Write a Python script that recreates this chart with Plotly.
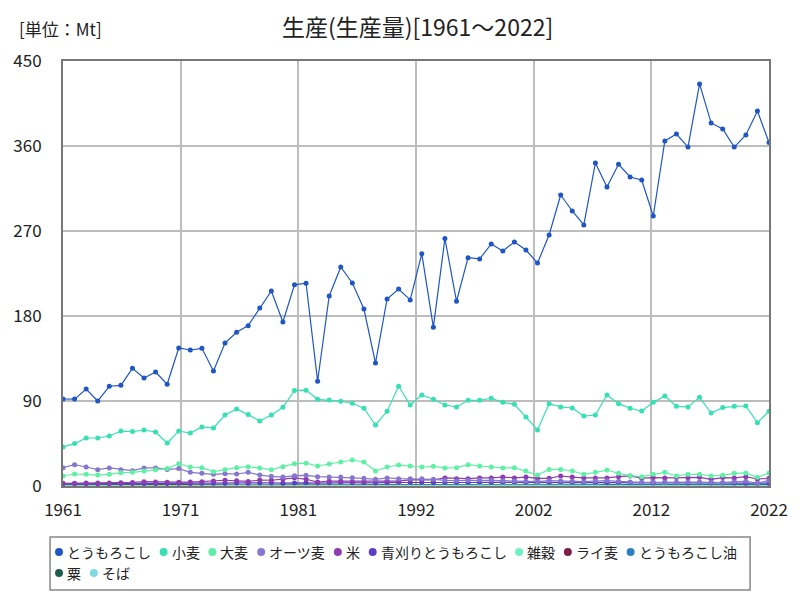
import numpy as np
import plotly.graph_objects as go

years = list(range(1961, 2023))

# production, Mt
corn = [92.1, 92.0, 102.7, 90.0, 105.6, 106.6, 124.6, 114.4, 120.7, 107.7,
        146.1, 144.0, 145.8, 121.8, 151.4, 162.7, 169.8, 188.5, 206.5, 173.7,
        213.0, 214.7, 110.9, 201.2, 231.9, 215.0, 187.4, 130.2, 198.0, 208.6,
        197.0, 246.0, 168.0, 262.0, 195.6, 241.8, 240.4, 256.3, 248.9, 258.4,
        249.9, 236.1, 265.8, 308.1, 291.2, 276.4, 342.0, 316.6, 340.6, 327.2,
        324.0, 285.9, 365.3, 372.7, 358.9, 425.7, 384.4, 378.0, 358.9, 371.7,
        397.0, 363.6]
wheat = [41.3, 44.9, 50.8, 50.8, 52.9, 58.2, 57.6, 59.3, 57.2, 45.5,
         58.2, 56.1, 62.5, 61.4, 75.2, 81.5, 75.6, 68.8, 75.2, 83.3,
         101.0, 101.5, 91.8, 91.1, 89.7, 87.6, 82.3, 64.6, 79.1, 105.6,
         85.8, 96.4, 91.8, 85.8, 83.7, 90.7, 90.7, 92.9, 88.6, 86.5,
         73.1, 59.3, 87.2, 83.7, 82.6, 74.1, 75.2, 96.4, 87.2, 82.3,
         79.4, 88.6, 95.3, 84.4, 83.7, 93.9, 77.3, 83.0, 84.4, 84.7,
         67.1, 79.1]
barley = [10.6, 12.7, 12.4, 11.6, 12.4, 14.1, 14.5, 15.9, 17.3, 18.4,
          23.6, 20.1, 19.4, 15.2, 17.3, 19.4, 20.5, 19.1, 17.3, 20.5,
          23.6, 24.2, 21.2, 23.3, 25.4, 27.5, 25.4, 15.9, 20.1, 22.2,
          21.2, 20.1, 20.8, 19.1, 19.4, 22.6, 21.2, 20.1, 19.1, 19.4,
          15.9, 11.6, 17.6, 17.6, 15.9, 12.4, 14.5, 16.9, 13.4, 10.9,
          9.9, 12.4, 14.5, 10.6, 12.4, 12.4, 10.6, 11.3, 13.4, 13.8,
          9.2, 13.8]
oats = [19.4, 22.6, 20.1, 17.3, 19.1, 17.3, 16.2, 19.1, 19.1, 17.6,
        18.4, 14.5, 13.4, 12.4, 13.1, 12.7, 14.5, 11.6, 10.2, 9.5,
        10.9, 11.3, 9.9, 9.5, 9.5, 8.8, 8.1, 7.1, 8.5, 7.8,
        7.8, 7.8, 7.1, 6.0, 5.6, 6.0, 6.4, 6.0, 5.6, 5.3,
        4.9, 4.6, 5.6, 5.3, 4.9, 4.6, 5.3, 5.6, 4.9, 4.2,
        3.9, 3.9, 4.2, 4.0, 4.2, 4.2, 3.9, 3.7, 4.6, 5.0,
        3.0, 5.9]
rice = [2.8, 2.9, 3.1, 3.2, 3.3, 3.5, 3.8, 4.6, 4.3, 4.0,
        4.0, 4.2, 4.6, 5.4, 6.1, 5.5, 4.8, 6.3, 6.1, 7.2,
        8.7, 7.1, 4.2, 5.3, 5.3, 4.6, 4.6, 5.3, 5.3, 5.1,
        6.4, 6.4, 6.4, 8.5, 7.8, 7.8, 8.5, 8.5, 9.5, 8.5,
        9.5, 8.1, 8.1, 10.6, 9.5, 8.5, 8.5, 8.5, 9.9, 10.7,
        8.3, 8.9, 8.5, 9.0, 8.7, 9.2, 7.1, 8.9, 8.5, 9.9,
        7.4, 8.1]
green_corn = [2.2, 2.3, 2.4, 2.3, 2.5, 2.6, 2.6, 2.7, 2.7, 2.6,
              2.8, 2.7, 2.9, 2.8, 3.0, 3.1, 3.0, 3.2, 3.3, 3.0,
              3.3, 3.4, 3.1, 3.4, 3.6, 3.5, 3.4, 3.2, 3.5, 3.7,
              3.6, 3.8, 3.5, 3.8, 3.6, 3.7, 3.9, 3.8, 4.0, 3.9,
              3.8, 3.9, 3.8, 4.0, 3.7, 3.6, 3.8, 3.5, 3.6, 3.5,
              3.4, 3.3, 3.6, 3.4, 3.3, 3.5, 3.2, 3.3, 3.1, 3.0,
              2.9, 3.0]
other_cereals = [0.6, 0.6, 0.7, 0.6, 0.7, 0.7, 0.8, 0.8, 0.7, 0.8,
                 0.8, 0.7, 0.7, 0.6, 0.7, 0.7, 0.6, 0.6, 0.6, 0.5,
                 0.6, 0.6, 0.5, 0.5, 0.6, 0.5, 0.5, 0.4, 0.5, 0.5,
                 0.5, 0.5, 0.4, 0.5, 0.4, 0.5, 0.5, 0.4, 0.4, 0.4,
                 0.4, 0.3, 0.4, 0.4, 0.4, 0.3, 0.4, 0.4, 0.3, 0.3,
                 0.3, 0.3, 0.4, 0.3, 0.3, 0.3, 0.3, 0.3, 0.3, 0.3,
                 0.3, 0.3]
rye = [1.8, 1.9, 1.6, 1.7, 1.8, 1.5, 1.4, 1.6, 1.7, 1.6,
       1.8, 1.4, 1.1, 0.9, 0.9, 0.9, 0.9, 1.0, 0.9, 0.9,
       1.1, 1.3, 1.1, 1.0, 1.1, 1.0, 0.9, 0.8, 0.8, 0.9,
       0.8, 0.7, 0.6, 0.6, 0.6, 0.6, 0.6, 0.6, 0.6, 0.5,
       0.5, 0.4, 0.6, 0.6, 0.6, 0.5, 0.5, 0.6, 0.5, 0.4,
       0.4, 0.5, 0.6, 0.4, 0.6, 0.6, 0.5, 0.5, 0.6, 0.7,
       0.5, 0.6]
corn_oil = [0.3, 0.3, 0.3, 0.3, 0.4, 0.4, 0.4, 0.4, 0.4, 0.4,
            0.4, 0.5, 0.5, 0.5, 0.5, 0.6, 0.6, 0.7, 0.7, 0.8,
            0.8, 0.9, 0.9, 0.9, 1.0, 1.0, 1.0, 1.1, 1.1, 1.1,
            1.2, 1.2, 1.2, 1.2, 1.3, 1.3, 1.3, 1.3, 1.4, 1.4,
            1.4, 1.4, 1.4, 1.5, 1.5, 1.5, 1.5, 1.6, 1.6, 1.6,
            1.6, 1.6, 1.7, 1.7, 1.7, 1.7, 1.8, 1.8, 1.8, 1.8,
            1.8, 1.8]
millet = [0.2, 0.2, 0.2, 0.2, 0.2, 0.2, 0.2, 0.2, 0.2, 0.2,
          0.2, 0.2, 0.2, 0.2, 0.2, 0.2, 0.2, 0.2, 0.2, 0.2,
          0.3, 0.3, 0.3, 0.3, 0.3, 0.3, 0.3, 0.3, 0.3, 0.3,
          0.3, 0.3, 0.2, 0.2, 0.2, 0.2, 0.2, 0.2, 0.3, 0.3,
          0.3, 0.3, 0.4, 0.4, 0.3, 0.3, 0.4, 0.4, 0.4, 0.4,
          0.3, 0.3, 0.4, 0.4, 0.4, 0.4, 0.4, 0.4, 0.3, 0.3,
          0.3, 0.3]
buckwheat = [0.1] * 62

names = ["とうもろこし", "小麦", "大麦", "オーツ麦", "米", "青刈りとうもろこし",
         "雑穀", "ライ麦", "とうもろこし油", "粟", "そば"]
series = [corn, wheat, barley, oats, rice, green_corn,
          other_cereals, rye, corn_oil, millet, buckwheat]
colors = ["#1f56c4", "#36e0b2", "#5ff0a6", "#8577d0", "#8e3cb0", "#5b3fc4",
          "#6ff0c4", "#7d1f45", "#2b80c0", "#1e5e4a", "#80d8e0"]

x_tick_labels = ["1961", "1971", "1981", "1992", "2002", "2012", "2022"]

FONT = "Noto Sans CJK JP"
W, H = 800, 600
ML, MR, MT, MB = 63, 28, 61, 114
PW, PH = W - ML - MR, H - MT - MB


def px(x, y):
    # pixel position -> paper coords
    return (x - ML) / PW, (H - MB - y) / PH


fig = go.Figure()

# draw small ones first so corn ends up on top
for name, vals, c in reversed(list(zip(names, series, colors))):
    fig.add_trace(go.Scatter(x=years, y=vals, mode="lines+markers", name=name,
                             line=dict(color=c, width=1.2),
                             marker=dict(color=c, size=5)))

# legend drawn by hand: dot + label, wraps inside a box
shapes = []
x0b, y0b = px(50, 537)
x1b, y1b = px(753, 590)
shapes.append(dict(type="rect", xref="paper", yref="paper", x0=x0b, x1=x1b,
                   y0=y1b, y1=y0b, line=dict(color="#888", width=1.5),
                   fillcolor="white", layer="below"))
fs = 14
cx, cy = 59, 552
for name, c in zip(names, colors):
    w = 7 + fs * len(name)
    if cx + w > 750:
        cx, cy = 59, cy + 21
    ax0, ay0 = px(cx - 4, cy + 4)
    ax1, ay1 = px(cx + 4, cy - 4)
    shapes.append(dict(type="circle", xref="paper", yref="paper",
                       x0=ax0, x1=ax1, y0=ay0, y1=ay1,
                       fillcolor=c, line=dict(width=0)))
    tx, ty = px(cx + 6, cy)
    fig.add_annotation(text=name, xref="paper", yref="paper", x=tx, y=ty,
                       xanchor="left", yanchor="middle", showarrow=False,
                       font=dict(size=fs, color="#222"))
    cx += w + 14

tickvals = list(np.linspace(years[0], years[-1], len(x_tick_labels)))

fig.update_layout(
    width=W, height=H,
    margin=dict(l=ML, r=MR, t=MT, b=MB),
    paper_bgcolor="white", plot_bgcolor="white",
    font=dict(family=FONT, size=17, color="#222"),
    title=dict(text="生産(生産量)[1961～2022]", x=0.522, xanchor="center",
               y=0.953, yanchor="middle", font=dict(size=23, color="#222")),
    showlegend=False,
    shapes=shapes,
)

ux, uy = px(17, 28)
fig.add_annotation(text="[単位：Mt]", xref="paper", yref="paper",
                   x=ux, y=uy, xanchor="left", yanchor="middle",
                   showarrow=False, font=dict(size=17, color="#222"))

fig.update_xaxes(range=[years[0], years[-1]], tickvals=tickvals, ticktext=x_tick_labels,
                 showgrid=True, gridcolor="#bdbdbd", gridwidth=2,
                 showline=True, linecolor="#777", linewidth=2, mirror=True,
                 zeroline=False, ticks="outside", ticklen=8,
                 tickcolor="rgba(0,0,0,0)")
fig.update_yaxes(range=[0, 450], dtick=90,
                 showgrid=True, gridcolor="#bdbdbd", gridwidth=2,
                 showline=True, linecolor="#777", linewidth=2, mirror=True,
                 zeroline=False, ticks="outside", ticklen=16,
                 tickcolor="rgba(0,0,0,0)")

# page body has a default 8px margin; drop it so the chart sits at 0,0
fig.write_html("out.html", config={"displayModeBar": False},
               post_script="document.body.style.margin='0';")
